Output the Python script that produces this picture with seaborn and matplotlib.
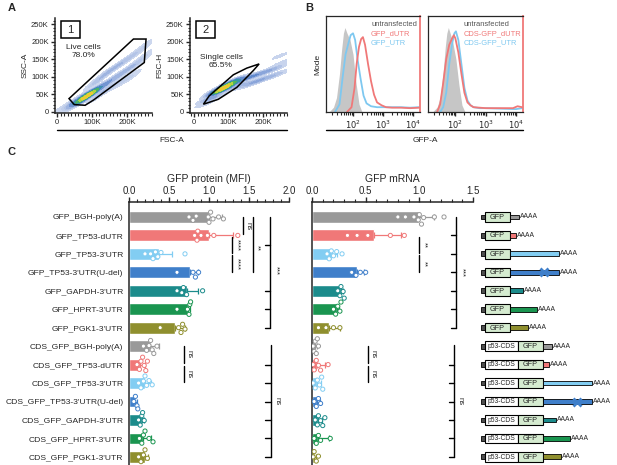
import numpy as np
import pandas as pd
import matplotlib
matplotlib.use("Agg")
import matplotlib.pyplot as plt
import seaborn as sns
from matplotlib.patches import Rectangle, Polygon
from matplotlib.lines import Line2D
from matplotlib.colors import LinearSegmentedColormap
from matplotlib.ticker import MultipleLocator, LogLocator, NullFormatter

# ======================= DATA =======================
# Panel A  (values in thousands)
live_gate_x = [34, 218, 254, 249, 104, 80, 49]
live_gate_y = [38, 208, 208, 141, 34, 19, 21]
single_gate_x = [27, 44, 114, 153, 189, 172, 124, 70]
single_gate_y = [22, 46, 106, 125, 137, 118, 70, 36]
cloud1_x = [5, 40, 55, 70, 85, 95, 110, 110, 120, 140, 140, 150, 170, 170, 180, 200, 200, 210, 230, 230, 250, 250]
cloud1_y = [5, 25, 30, 38, 45, 50, 60, 85, 50, 80, 110, 70, 100, 130, 85, 120, 150, 100, 140, 170, 160, 190]
cloud1_w = [0.4, 0.8, 1.8, 4.5, 6, 4.5, 2.2, 1, 1, 1.5, 1, 0.8, 1.2, 0.9, 0.7, 1, 0.8, 0.6, 0.8, 0.6, 0.5, 0.4]
cloud2_x = [35, 50, 70, 85, 100, 120, 130, 150, 160, 180, 190, 210, 220, 240, 250, 255, 250]
cloud2_y = [25, 40, 58, 68, 78, 90, 75, 95, 80, 105, 90, 115, 100, 125, 110, 140, 160]
cloud2_w = [0.6, 1.8, 4.5, 6, 4.5, 2.2, 1.2, 1.5, 1, 1.2, 0.9, 1, 0.8, 0.7, 0.5, 0.4, 0.3]

# Panel B  (log10 GFP-A, normalised to mode)
h1_gray_x = [1.2, 1.35, 1.45, 1.55, 1.62, 1.68, 1.73, 1.8, 1.9, 2.0, 2.1, 2.2, 2.3]
h1_gray_y = [0, 0.05, 0.15, 0.4, 0.65, 0.82, 0.88, 0.82, 0.75, 0.6, 0.3, 0.08, 0]
h1_blue_x = [1.4, 1.55, 1.65, 1.75, 1.85, 1.92, 2.0, 2.07, 2.15, 2.25, 2.35, 2.45, 2.6, 2.8, 3.0, 3.3, 3.6, 3.9, 4.2]
h1_blue_y = [0, 0.08, 0.35, 0.6, 0.72, 0.8, 0.82, 0.75, 0.55, 0.35, 0.17, 0.09, 0.06, 0.05, 0.05, 0.05, 0.05, 0.045, 0.05]
h1_red_x = [1.8, 1.95, 2.05, 2.12, 2.2, 2.27, 2.33, 2.4, 2.5, 2.6, 2.7, 2.8, 2.95, 3.1, 3.3, 3.6, 3.9, 4.2]
h1_red_y = [0, 0.05, 0.25, 0.5, 0.68, 0.76, 0.78, 0.7, 0.5, 0.32, 0.18, 0.1, 0.07, 0.05, 0.045, 0.045, 0.04, 0.045]
h2_gray_x = [1.25, 1.4, 1.5, 1.6, 1.67, 1.72, 1.77, 1.83, 1.92, 2.02, 2.12, 2.22, 2.32]
h2_gray_y = [0, 0.05, 0.15, 0.42, 0.68, 0.82, 0.88, 0.82, 0.72, 0.55, 0.28, 0.07, 0]
h2_blue_x = [1.5, 1.6, 1.7, 1.8, 1.9, 1.97, 2.02, 2.1, 2.2, 2.3, 2.4, 2.5, 2.6, 2.8, 3.0, 3.5, 4.0, 4.2]
h2_blue_y = [0, 0.05, 0.2, 0.5, 0.72, 0.82, 0.84, 0.75, 0.5, 0.25, 0.12, 0.07, 0.05, 0.04, 0.04, 0.035, 0.03, 0.04]
h2_red_x = [1.4, 1.5, 1.6, 1.7, 1.8, 1.9, 1.95, 2.0, 2.1, 2.2, 2.3, 2.4, 2.5, 2.6, 2.8, 3.0, 3.5, 3.9, 4.05, 4.2]
h2_red_y = [0, 0.08, 0.3, 0.55, 0.7, 0.77, 0.8, 0.77, 0.62, 0.4, 0.2, 0.1, 0.07, 0.05, 0.045, 0.04, 0.04, 0.04, 0.06, 0.05]

# Panel C
categories = ["GFP_BGH-poly(A)", "GFP_TP53-dUTR", "GFP_TP53-3'UTR", "GFP_TP53-3'UTR(U-del)",
              "GFP_GAPDH-3'UTR", "GFP_HPRT-3'UTR", "GFP_PGK1-3'UTR",
              "CDS_GFP_BGH-poly(A)", "CDS_GFP_TP53-dUTR", "CDS_GFP_TP53-3'UTR",
              "CDS_GFP_TP53-3'UTR(U-del)", "CDS_GFP_GAPDH-3'UTR", "CDS_GFP_HPRT-3'UTR",
              "CDS_GFP_PGK1-3'UTR"]
utr_colors = ["#999999", "#f07878", "#82cdf2", "#3f7fca", "#1b8b8b", "#1a9550", "#8f8f2e"]
utr_len = [9, 6, 49, 49, 13, 27, 18]
protein_mean = [1.0, 1.0, 0.37, 0.76, 0.72, 0.74, 0.58, 0.26, 0.14, 0.2, 0.075, 0.16, 0.18, 0.2]
protein_sd = [0.16, 0.3, 0.17, 0.1, 0.14, 0.02, 0.12, 0.11, 0.06, 0.07, 0.03, 0.03, 0.09, 0.04]
protein_pts = [[0.75, 0.8, 0.84, 0.99, 1.0, 1.02, 1.05, 1.12, 1.18],
               [0.82, 0.85, 0.86, 0.9, 0.98, 1.06, 1.36],
               [0.2, 0.27, 0.3, 0.33, 0.36, 0.4, 0.7],
               [0.6, 0.8, 0.83, 0.87],
               [0.6, 0.66, 0.68, 0.72, 0.92],
               [0.6, 0.73, 0.75, 0.76, 0.77],
               [0.39, 0.62, 0.65, 0.67, 0.7],
               [0.18, 0.22, 0.25, 0.27, 0.29, 0.31, 0.35],
               [0.1, 0.13, 0.15, 0.17, 0.19, 0.21, 0.23],
               [0.12, 0.15, 0.18, 0.2, 0.22, 0.25, 0.29],
               [0.06, 0.08, 0.1, 0.11],
               [0.12, 0.14, 0.16, 0.17, 0.19],
               [0.13, 0.16, 0.18, 0.2, 0.25, 0.3],
               [0.12, 0.15, 0.18, 0.2, 0.23]]
mrna_mean = [1.0, 0.58, 0.19, 0.42, 0.27, 0.23, 0.16, 0.03, 0.05, 0.05, 0.05, 0.06, 0.06, 0.02]
mrna_sd = [0.14, 0.25, 0.04, 0.06, 0.02, 0.02, 0.1, 0.02, 0.07, 0.03, 0.02, 0.03, 0.1, 0.02]
mrna_pts = [[0.8, 0.87, 0.95, 0.99, 1.0, 1.02, 1.04, 1.14, 1.23],
            [0.33, 0.42, 0.52, 0.73, 0.86],
            [0.14, 0.16, 0.18, 0.2, 0.23, 0.28],
            [0.37, 0.41, 0.45, 0.5],
            [0.24, 0.26, 0.27, 0.29, 0.3],
            [0.2, 0.22, 0.24, 0.26, 0.27],
            [0.06, 0.13, 0.2, 0.26],
            [0.01, 0.02, 0.03, 0.04, 0.05, 0.06],
            [0.01, 0.02, 0.04, 0.06, 0.08, 0.15],
            [0.01, 0.03, 0.05, 0.07, 0.09, 0.1],
            [0.02, 0.04, 0.06, 0.08],
            [0.03, 0.05, 0.06, 0.08, 0.1, 0.12],
            [0.02, 0.04, 0.06, 0.08, 0.17],
            [0.01, 0.02, 0.04, 0.06]]

# ======================= STYLE =======================
sns.set_style("ticks")
plt.rcParams['font.family'] = ['Liberation Sans', 'DejaVu Sans']
plt.rcParams['axes.linewidth'] = 1.0

W, H = 617, 465
fig = plt.figure(figsize=(W / 100, H / 100), dpi=100)


def add_ax(l, t, r, b):
    return fig.add_axes([l / W, 1 - b / H, (r - l) / W, (b - t) / H])


def fig_text(x, y, s, **kw):
    fig.text(x / W, 1 - y / H, s, **kw)


def fig_hline(x0, x1, y, lw=1.0):
    fig.add_artist(Line2D([x0 / W, x1 / W], [1 - y / H, 1 - y / H], color='black', lw=lw))


colors14 = utr_colors * 2

# ======================= PANEL A =======================
flow_cmap = LinearSegmentedColormap.from_list(
    "flow", ["#d3dcf0", "#93acdd", "#5581c8", "#2f9aa0", "#4fb55a", "#a8d040", "#ece23a", "#f0a028"])


def flow_axis(ax, ylabel):
    ax.set_xlim(-6, 271)
    ax.set_ylim(-3, 268)
    sns.despine(ax=ax)
    ax.set_xticks([0, 100, 200])
    ax.set_xticklabels(["0", "100K", "200K"])
    ax.set_yticks([0, 50, 100, 150, 200, 250])
    ax.set_yticklabels(["0", "50K", "100K", "150K", "200K", "250K"])
    ax.xaxis.set_minor_locator(MultipleLocator(10))
    ax.yaxis.set_minor_locator(MultipleLocator(10))
    ax.tick_params(which='major', length=3, width=1.0, labelsize=5.5, pad=1.5)
    ax.tick_params(which='minor', length=1.8, width=0.8)
    ax.set_xlabel("")
    ax.set_ylabel(ylabel, fontsize=6, labelpad=2)
    for sp in ax.spines.values():
        sp.set_linewidth(1.1)


axA1 = add_ax(55, 18, 152, 113)
sns.kdeplot(x=cloud1_x, y=cloud1_y, weights=cloud1_w, fill=True, cmap=flow_cmap,
            levels=10, thresh=0.03, bw_adjust=0.5, ax=axA1)
axA1.add_patch(Polygon(np.column_stack([live_gate_x, live_gate_y]), closed=True,
                       fill=False, ec='black', lw=1.1))
axA1.text(74, 172, "Live cells\n78.0%", fontsize=6, ha='center', va='center', linespacing=1.2)
flow_axis(axA1, "SSC-A")
axA1.add_patch(Rectangle((0.065, 0.79), 0.19, 0.175, transform=axA1.transAxes,
                         fill=False, ec='black', lw=1.1))
axA1.text(0.16, 0.875, "1", transform=axA1.transAxes, fontsize=8, ha='center', va='center')

axA2 = add_ax(190, 18, 287, 113)
sns.kdeplot(x=cloud2_x, y=cloud2_y, weights=cloud2_w, fill=True, cmap=flow_cmap,
            levels=10, thresh=0.03, bw_adjust=0.5, ax=axA2)
axA2.add_patch(Polygon(np.column_stack([single_gate_x, single_gate_y]), closed=True,
                       fill=False, ec='black', lw=1.1))
axA2.text(78, 145, "Single cells\n65.5%", fontsize=6, ha='center', va='center', linespacing=1.2)
flow_axis(axA2, "FSC-H")
axA2.set_xlim(-12, 270)
axA2.add_patch(Rectangle((0.065, 0.79), 0.19, 0.175, transform=axA2.transAxes,
                         fill=False, ec='black', lw=1.1))
axA2.text(0.16, 0.875, "2", transform=axA2.transAxes, fontsize=8, ha='center', va='center')

fig_hline(57, 287, 130)
fig_text(172, 141, "FSC-A", fontsize=6, ha='center', va='center')

# ======================= PANEL B =======================
gray_fill = "#c6c6c6"
red_line = "#f07878"
blue_line = "#7ec8f0"


def hist_axis(ax, curves, labels, text_x):
    gx, gy, bx, by, rx, ry = curves
    ax.fill_between(10 ** np.array(gx), gy, color=gray_fill, lw=0)
    sns.lineplot(x=10 ** np.array(bx), y=by, color=blue_line, lw=1.3, ax=ax)
    sns.lineplot(x=10 ** np.array(rx), y=ry, color=red_line, lw=1.3, ax=ax)
    ax.set_xscale('log')
    ax.set_xlim(10 ** 1.1, 10 ** 4.23)
    ax.set_ylim(0, 1.0)
    ax.set_yticks([])
    ax.set_xticks([100, 1000, 10000])
    ax.set_xticklabels([r"$10^{2}$", r"$10^{3}$", r"$10^{4}$"])
    ax.xaxis.set_minor_locator(LogLocator(base=10, subs=np.arange(2, 10)))
    ax.xaxis.set_minor_formatter(NullFormatter())
    ax.tick_params(axis='x', which='major', length=3, width=1.0, labelsize=6, pad=1.5)
    ax.tick_params(axis='x', which='minor', length=1.8, width=0.8)
    for sp in ax.spines.values():
        sp.set_linewidth(0.9)
    ax.spines['right'].set_color(red_line)
    ax.spines['right'].set_linewidth(1.3)
    cols = ["#555555", red_line, blue_line]
    for j, (lab, c) in enumerate(zip(labels, cols)):
        ax.text(text_x, 0.915 - 0.098 * j, lab, transform=ax.transAxes, fontsize=5.4,
                ha='left', va='center', color=c)


axB1 = add_ax(326, 16, 420, 112)
hist_axis(axB1, (h1_gray_x, h1_gray_y, h1_blue_x, h1_blue_y, h1_red_x, h1_red_y),
          ["untransfected", "GFP_dUTR", "GFP_UTR"], 0.48)
axB1.set_ylabel("Mode", fontsize=6, labelpad=3)

axB2 = add_ax(428, 16, 523, 112)
hist_axis(axB2, (h2_gray_x, h2_gray_y, h2_blue_x, h2_blue_y, h2_red_x, h2_red_y),
          ["untransfected", "CDS-GFP_dUTR", "CDS-GFP_UTR"], 0.37)

fig_hline(326, 523, 130)
fig_text(425, 141, "GFP-A", fontsize=6, ha='center', va='center')

# ======================= PANEL C =======================
YLIM = (13.44, -0.81)


def bar_panel(ax, means, sds, pts, xmax, title, show_labels):
    df = pd.DataFrame({'cat': categories, 'mean': means})
    sns.barplot(data=df, x='mean', y='cat', hue='cat', order=categories, hue_order=categories,
                palette=colors14, saturation=1, width=0.64, errorbar=None, legend=False,
                ax=ax, zorder=1)
    for i, (m, s) in enumerate(zip(means, sds)):
        ax.errorbar([m], [i], xerr=[[0], [s]], fmt='none', ecolor=colors14[i],
                    elinewidth=0.9, capsize=2.3, capthick=0.9, zorder=2)
    long = pd.DataFrame([(c, v) for c, vals in zip(categories, pts) for v in vals],
                        columns=['cat', 'val'])
    n0 = len(ax.collections)
    sns.swarmplot(data=long, x='val', y='cat', hue='cat', order=categories,
                  hue_order=categories, palette=colors14, size=3.0, linewidth=0.7,
                  legend=False, ax=ax, zorder=3, warn_thresh=1.0)
    for coll in ax.collections[n0:]:
        fc = coll.get_facecolors()
        if len(fc):
            coll.set_edgecolors(fc)
            coll.set_facecolors('white')
            coll.set_linewidth(0.7)
    ax.set_xlim(0, xmax)
    ax.set_ylim(*YLIM)
    ax.xaxis.tick_top()
    ax.xaxis.set_label_position('top')
    ax.spines['bottom'].set_visible(False)
    ax.spines['right'].set_visible(False)
    for sp in ('left', 'top'):
        ax.spines[sp].set_linewidth(1.1)
    ticks = np.arange(0, xmax + 0.01, 0.5)
    ax.set_xticks(ticks)
    ax.set_xticklabels([f"{t:.1f}" for t in ticks])
    ax.xaxis.set_minor_locator(MultipleLocator(0.1))
    ax.tick_params(axis='x', which='major', length=3.5, width=1.0, labelsize=7, pad=1)
    ax.tick_params(axis='x', which='minor', length=2, width=0.8)
    ax.tick_params(axis='y', length=0, labelsize=6.1, pad=4)
    ax.set_ylabel("")
    ax.set_xlabel(title, fontsize=7.5, labelpad=3)
    if not show_labels:
        ax.set_yticklabels([])


def vline(ax, x, y0, y1, text=None, tx=None, ty=None):
    ax.plot([x, x], [y0, y1], color='black', lw=1.0, clip_on=False, zorder=5)
    if text:
        ax.text(tx, ty, text, rotation=-90, fontsize=5.5, ha='center', va='center', zorder=5)


def bracket(ax, x, y0, y1, tick_rows, tick_len, text, tx, ty):
    ax.plot([x, x], [y0, y1], color='black', lw=1.0, clip_on=False, zorder=5)
    for r in tick_rows:
        ax.plot([x - tick_len, x], [r, r], color='black', lw=1.0, clip_on=False, zorder=5)
    ax.text(tx, ty, text, rotation=-90, fontsize=5.5, ha='center', va='center', zorder=5)


axP = add_ax(129, 202, 289, 465)
bar_panel(axP, protein_mean, protein_sd, protein_pts, 2.0, "GFP protein (MFI)", True)
vline(axP, 1.43, 0, 0.95, "ns", 1.485, 0.5)
vline(axP, 1.29, 1.1, 1.95, "****", 1.345, 1.52)
vline(axP, 1.29, 2.05, 3.0, "****", 1.345, 2.55)
vline(axP, 1.55, 0, 3.0, "**", 1.605, 1.7)
bracket(axP, 1.76, 0, 6, [1.5, 4, 5, 6], 0.065, "***", 1.835, 2.9)
vline(axP, 0.69, 7, 7.9, "ns", 0.745, 7.45)
vline(axP, 0.69, 8.1, 8.95, "ns", 0.745, 8.5)
bracket(axP, 1.77, 6.95, 13, [8, 9, 10, 11, 12, 13], 0.065, "ns", 1.845, 10)

axM = add_ax(312, 202, 473, 465)
bar_panel(axM, mrna_mean, mrna_sd, mrna_pts, 1.5, "GFP mRNA", False)
vline(axM, 1.0, 1.1, 1.95, "**", 1.045, 1.52)
vline(axM, 1.0, 2.05, 3.0, "**", 1.045, 2.55)
bracket(axM, 1.34, 0, 6, [1, 2, 3, 4, 5, 6], 0.047, "***", 1.395, 3)
vline(axM, 0.52, 7, 7.9, "ns", 0.565, 7.45)
vline(axM, 0.52, 8.1, 8.95, "ns", 0.565, 8.5)
bracket(axM, 1.32, 6.95, 13, [8, 9, 10, 11, 12, 13], 0.047, "ns", 1.375, 10)

# construct schematics
axS = add_ax(476, 202, 617, 465)
axS.set_xlim(476, 617)
axS.set_ylim(*YLIM)
axS.axis('off')
for i in range(len(categories)):
    grp, k = divmod(i, 7)
    axS.add_patch(Rectangle((481, i - 0.13), 4, 0.26, fc='#4d4d4d', ec='black', lw=0.6))
    x = 485
    if grp == 1:
        axS.add_patch(Rectangle((x, i - 0.26), 33, 0.52, fc='white', ec='black', lw=0.8))
        axS.text(x + 16.5, i + 0.02, "p53-CDS", fontsize=4.9, ha='center', va='center')
        x = 518
    axS.add_patch(Rectangle((x, i - 0.26), 25, 0.52, fc='#d5ebd0', ec='black', lw=0.8))
    axS.text(x + 12.5, i + 0.02, "GFP", fontsize=5.2, ha='center', va='center')
    x += 25
    L = utr_len[k]
    axS.add_patch(Rectangle((x, i - 0.13), L, 0.26, fc=utr_colors[k], ec='black', lw=0.6))
    if k == 3:
        axS.plot([x + 0.7 * L], [i], marker='x', ms=6, mew=2, color=utr_colors[3])
    axS.text(x + L + 0.8, i, "AAAA", fontsize=4.9, ha='left', va='center')

# panel letters
fig_text(8, 8, "A", fontsize=8, fontweight='bold', va='center')
fig_text(305, 8, "B", fontsize=8, fontweight='bold', va='center')
fig_text(8, 152, "C", fontsize=8, fontweight='bold', va='center')

fig.savefig("out.png", dpi=100)
